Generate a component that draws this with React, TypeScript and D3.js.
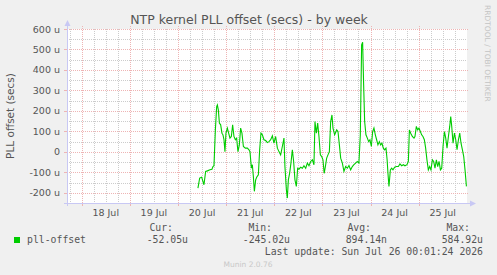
import React from "react";
import * as d3 from "d3";

// time as day-of-July (fractional), values in microseconds
const sampleDays = [
  20.415, 20.451, 20.492, 20.54, 20.575, 20.611, 20.665, 20.706, 20.727, 20.748,
  20.777, 20.804, 20.818, 20.839, 20.86, 20.887, 20.914, 20.935, 20.956, 20.976,
  20.997, 21.026, 21.053, 21.08, 21.109, 21.136, 21.163, 21.192, 21.219, 21.246,
  21.275, 21.302, 21.329, 21.359, 21.4, 21.442, 21.475, 21.496, 21.525, 21.545,
  21.566, 21.587, 21.614, 21.635, 21.67, 21.697, 21.724, 21.753, 21.786, 21.822,
  21.857, 21.89, 21.926, 21.961, 21.994, 22.029, 22.065, 22.098, 22.133, 22.168,
  22.202, 22.222, 22.252, 22.272, 22.293, 22.32, 22.347, 22.376, 22.403, 22.43,
  22.459, 22.486, 22.513, 22.549, 22.584, 22.617, 22.653, 22.688, 22.721, 22.757,
  22.792, 22.825, 22.846, 22.875, 22.902, 22.929, 22.958, 22.986, 23.012, 23.037,
  23.062, 23.089, 23.116, 23.145, 23.172, 23.199, 23.22, 23.255, 23.297, 23.324,
  23.353, 23.38, 23.415, 23.448, 23.483, 23.519, 23.552, 23.587, 23.622, 23.655,
  23.69, 23.725, 23.759, 23.788, 23.815, 23.836, 23.857, 23.878, 23.905, 23.934,
  23.961, 23.988, 24.017, 24.044, 24.071, 24.1, 24.127, 24.154, 24.183, 24.21,
  24.237, 24.266, 24.293, 24.321, 24.345, 24.362, 24.383, 24.412, 24.439, 24.466,
  24.501, 24.537, 24.578, 24.611, 24.647, 24.682, 24.715, 24.757, 24.786, 24.807,
  24.834, 24.869, 24.903, 24.923, 24.952, 24.979, 25.006, 25.035, 25.062, 25.089,
  25.118, 25.145, 25.172, 25.201, 25.228, 25.255, 25.285, 25.312, 25.339, 25.368,
  25.395, 25.423, 25.452, 25.479, 25.506, 25.535, 25.562, 25.589, 25.618, 25.645,
  25.666, 25.687, 25.714, 25.743, 25.77, 25.797, 25.826, 25.853, 25.88, 25.909,
  25.936, 25.963, 25.992,
];

const pllOffsetUs = [
  -177, -128, -124, -161, -96, -93, -88, -85, -72, -68,
  107, 221, 229, 205, 140, 132, 91, 83, 59, 1,
  91, 116, 91, 67, 75, 132, 75, 59, 67, 1,
  34, 116, 91, 26, 18, 18, 10, 1, -80, -63,
  -120, -193, -137, -124, -112, 10, 91, 83, 59, 55,
  45, 50, 59, 78, 42, 75, 18, 1, -15, 26,
  67, -72, -185, -226, -137, -104, -55, 10, -47, -137,
  -169, -80, -85, -75, -80, -68, -80, -55, -68, -47,
  -39, -63, 148, 91, 140, 75, -15, -23, -39, -105,
  -72, -31, -15, 1, 148, 180, 116, 83, 107, 99,
  34, -31, -55, -96, -72, -80, -67, -88, -72, -63,
  -55, -47, -55, 83, 522, 535, 327, 148, 83, 67,
  50, 59, 26, 99, 116, 83, 59, 34, 50, 34,
  42, 18, 10, 18, -40, -104, -169, -88, -80, -88,
  -75, -72, -72, -59, -68, -63, -68, -63, -47, 107,
  91, 75, 67, 75, 124, 107, 116, 99, 83, 75,
  59, 18, -39, -88, -72, -88, -39, -47, -80, -39,
  -72, -47, -88, -80, 26, 99, 67, 18, 75, 124,
  172, 124, 42, 91, 59, 10, 59, 91, 42, 10,
  -23, -88, -169,
];

const yTicks = [-200, -100, 0, 100, 200, 300, 400, 500, 600];
const yTickLabels = ["-200 u", "-100 u", "0", "100 u", "200 u", "300 u", "400 u", "500 u", "600 u"];
const dayLabels = ["18 Jul", "19 Jul", "20 Jul", "21 Jul", "22 Jul", "23 Jul", "24 Jul", "25 Jul"];
const dayStarts = [18, 19, 20, 21, 22, 23, 24, 25];

const legendHeaders = ["Cur:", "Min:", "Avg:", "Max:"];
const legendValues = ["-52.05u", "-245.02u", "894.14n", "584.92u"];

const W = 497;
const H = 275;
const plot = { left: 67, right: 467, top: 29, bottom: 203 };
const sans = "'DejaVu Sans', sans-serif";
const mono = "'DejaVu Sans Mono', monospace";
const textGray = "#555555";
const minorGrid = "#cccccc";
const majorGrid = "#eeb4b4";
const axisColor = "#c8c8f4";

export default function App() {
  const x = d3.scaleLinear().domain([17.695, 26.004]).range([plot.left, plot.right]);
  const y = d3.scaleLinear().domain([-250, 600]).range([plot.bottom, plot.top]);

  const points: [number, number][] = sampleDays.map((d, i) => [d, pllOffsetUs[i]]);
  const line = d3
    .line<[number, number]>()
    .x((d) => x(d[0]))
    .y((d) => y(d[1]));

  // 6-hour minor grid, daily major grid
  const minorX = d3.range(17.75, 26, 0.25).filter((d) => Math.abs(d - Math.round(d)) > 0.01);
  const minorY = d3.range(-250, 600, 50).filter((v) => v % 100 !== 0);

  const legendValueRight = [188, 290, 387, 483];
  const legendHeaderRight = [173, 272, 371, 470];

  return (
    <svg
      width={W}
      height={H}
      style={{ position: "absolute", left: 0, top: 0, background: "#f0f0f0" }}
    >
      <rect x={0} y={0} width={W} height={H} fill="#f0f0f0" />
      <rect
        x={plot.left}
        y={plot.top}
        width={plot.right - plot.left}
        height={plot.bottom - plot.top}
        fill="#ffffff"
      />

      {/* minor grid */}
      {minorX.map((d) => (
        <line
          key={"mx" + d}
          x1={Math.round(x(d)) + 0.5}
          x2={Math.round(x(d)) + 0.5}
          y1={plot.top}
          y2={plot.bottom}
          stroke={minorGrid}
          strokeDasharray="1,1"
        />
      ))}
      {minorY.map((v) => (
        <line
          key={"my" + v}
          x1={plot.left}
          x2={plot.right}
          y1={Math.round(y(v)) + 0.5}
          y2={Math.round(y(v)) + 0.5}
          stroke={minorGrid}
          strokeDasharray="1,1"
        />
      ))}

      {/* major grid */}
      {dayStarts.map((d) => (
        <g key={"MX" + d}>
          <line
            x1={Math.round(x(d)) + 0.5}
            x2={Math.round(x(d)) + 0.5}
            y1={plot.top - 3}
            y2={plot.bottom}
            stroke={majorGrid}
            strokeDasharray="1,1"
          />
          <line
            x1={Math.round(x(d)) + 0.5}
            x2={Math.round(x(d)) + 0.5}
            y1={plot.bottom}
            y2={plot.bottom + 3}
            stroke={majorGrid}
          />
        </g>
      ))}
      {yTicks.map((v) => (
        <g key={"MY" + v}>
          <line
            x1={plot.left}
            x2={plot.right + 2}
            y1={Math.round(y(v)) + 0.5}
            y2={Math.round(y(v)) + 0.5}
            stroke={majorGrid}
            strokeDasharray="1,1"
          />
          <line
            x1={plot.left - 3}
            x2={plot.left}
            y1={Math.round(y(v)) + 0.5}
            y2={Math.round(y(v)) + 0.5}
            stroke={majorGrid}
          />
        </g>
      ))}

      {/* axes with arrows */}
      <line x1={plot.left + 0.5} x2={plot.left + 0.5} y1={plot.bottom + 3} y2={plot.top - 5} stroke={axisColor} />
      <line x1={plot.left - 3} x2={plot.right + 4} y1={plot.bottom + 0.5} y2={plot.bottom + 0.5} stroke={axisColor} />
      <path
        d={`M${plot.left - 2.5},${plot.top - 3} L${plot.left + 0.5},${plot.top - 9} L${plot.left + 3.5},${plot.top - 3} Z`}
        fill={axisColor}
      />
      <path
        d={`M${plot.right + 3},${plot.bottom - 2.5} L${plot.right + 9},${plot.bottom + 0.5} L${plot.right + 3},${plot.bottom + 3.5} Z`}
        fill={axisColor}
      />

      {/* data */}
      <path d={line(points) ?? ""} fill="none" stroke="#00cc00" strokeWidth={1.1} />

      {/* y tick labels */}
      {yTicks.map((v, i) => (
        <text
          key={"yl" + v}
          x={60}
          y={y(v) + 3.5}
          textAnchor="end"
          fontFamily={sans}
          fontSize={9.5}
          fill={textGray}
        >
          {yTickLabels[i]}
        </text>
      ))}

      {/* x day labels at noon */}
      {dayStarts.map((d, i) => (
        <text
          key={"xl" + d}
          x={x(d + 0.5)}
          y={216}
          textAnchor="middle"
          fontFamily={sans}
          fontSize={9.5}
          fill={textGray}
        >
          {dayLabels[i]}
        </text>
      ))}

      {/* title */}
      <text x={249} y={24} textAnchor="middle" fontFamily={sans} fontSize={12.5} fill={textGray}>
        NTP kernel PLL offset (secs) - by week
      </text>

      {/* y axis label */}
      <text
        transform={`translate(14, ${(plot.top + plot.bottom) / 2}) rotate(-90)`}
        textAnchor="middle"
        fontFamily={sans}
        fontSize={10.5}
        fill={textGray}
      >
        PLL offset (secs)
      </text>

      {/* rrdtool watermark */}
      <text
        transform="translate(485, 5) rotate(90)"
        fontFamily={sans}
        fontSize={7.5}
        fill="#c4c4c4"
      >
        RRDTOOL / TOBI OETIKER
      </text>

      {/* legend */}
      <rect x={14} y={237} width={6} height={6} fill="#00cc00" />
      <text x={27} y={243} fontFamily={mono} fontSize={9.8} fill={textGray}>
        pll-offset
      </text>
      {legendHeaders.map((h, i) => (
        <text
          key={h}
          x={legendHeaderRight[i]}
          y={231}
          textAnchor="end"
          fontFamily={mono}
          fontSize={9.8}
          fill={textGray}
        >
          {h}
        </text>
      ))}
      {legendValues.map((v, i) => (
        <text
          key={v}
          x={legendValueRight[i]}
          y={243}
          textAnchor="end"
          fontFamily={mono}
          fontSize={9.8}
          fill={textGray}
        >
          {v}
        </text>
      ))}
      <text x={483} y={255} textAnchor="end" fontFamily={mono} fontSize={9.8} fill={textGray}>
        Last update: Sun Jul 26 00:01:24 2026
      </text>
      <text x={248} y={267} textAnchor="middle" fontFamily={sans} fontSize={7.5} fill="#c8c8c8">
        Munin 2.0.76
      </text>
    </svg>
  );
}
